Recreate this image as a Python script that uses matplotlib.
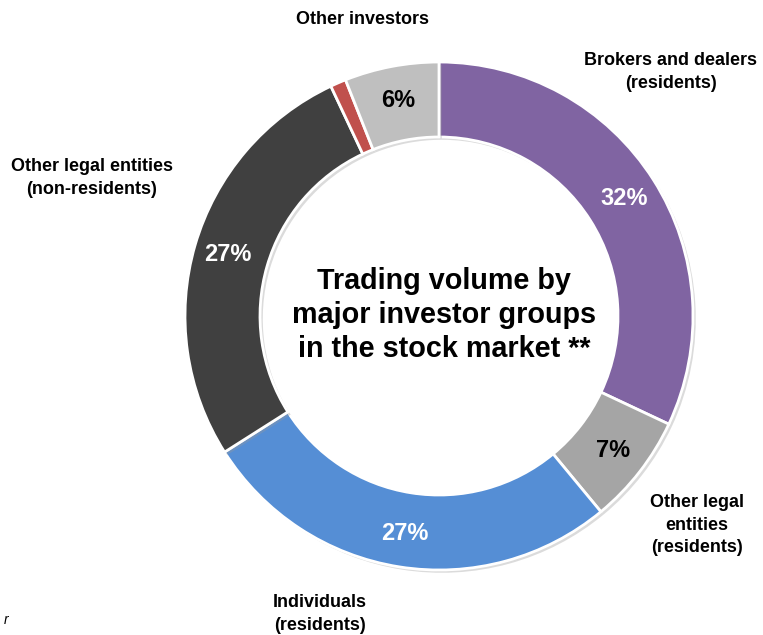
import matplotlib
matplotlib.use("Agg")
import matplotlib.pyplot as plt
import matplotlib.patheffects as pe

plt.rcParams['font.family'] = ['Liberation Sans', 'DejaVu Sans']

# investor groups, clockwise from the top
groups = ["Brokers and dealers\n(residents)", "Other legal\nentities\n(residents)",
          "Individuals\n(residents)", "Other legal entities\n(non-residents)",
          "Other", "Other investors"]
shares = [32, 7, 27, 27, 1, 6]
colors = ["#8064A2", "#A5A5A5", "#558ED5", "#404040", "#C0504D", "#BFBFBF"]
pct_colors = ["white", "black", "white", "white", None, "black"]

fig = plt.figure(figsize=(7.63, 6.35), dpi=100)
ax = fig.add_axes([0, 0, 1, 1])

wedges, texts, autotexts = ax.pie(
    shares, colors=colors, startangle=90, counterclock=False,
    center=(439, 319), radius=254, frame=True,
    autopct=lambda p: "%d%%" % round(p) if p > 2 else "",
    pctdistance=0.865,
    wedgeprops=dict(width=75, edgecolor="white", linewidth=2),
    textprops=dict(fontsize=17, fontweight="bold"))

for w in wedges:
    w.set_path_effects([pe.SimplePatchShadow(offset=(2, -2), shadow_rgbFace="#999999", alpha=0.35),
                        pe.Normal()])
for t, c in zip(autotexts, pct_colors):
    if c:
        t.set_color(c)

ax.set_xlim(0, 763)
ax.set_ylim(0, 635)
ax.set_aspect("equal")
ax.axis("off")

# outer labels (pixel positions, y from bottom)
label_pos = [(671, 563), (697, 110), (320, 21), (92, 457), None, (362, 616)]
for g, p in zip(groups, label_pos):
    if p:
        ax.text(p[0], p[1], g, ha="center", va="center", fontsize=13,
                fontweight="bold", linespacing=1.4)

ax.text(444, 320, "Trading volume by\nmajor investor groups\nin the stock market **",
        ha="center", va="center", fontsize=20.7, fontweight="bold", linespacing=1.26)

ax.text(4, 8, "r", fontsize=10, style="italic", ha="left", va="bottom")

fig.savefig("out.png", dpi=100)
